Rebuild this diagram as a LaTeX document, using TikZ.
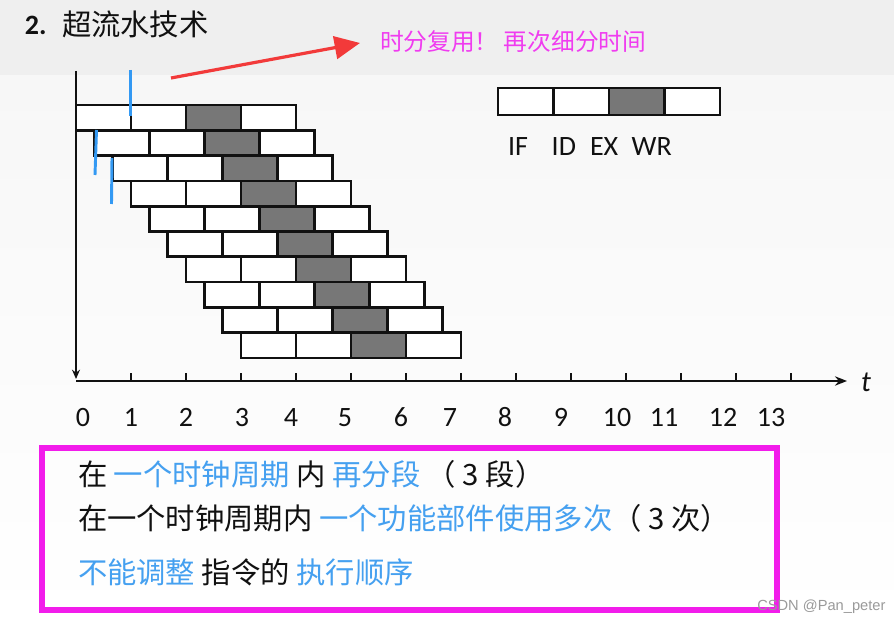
\documentclass[tikz,border=0pt]{standalone}
\usepackage{fontspec}
\setmainfont{Carlito}
\newfontfamily\cjk{Noto Sans CJK SC}
\newfontfamily\wmfont{Liberation Sans}
\usetikzlibrary{arrows.meta}
\definecolor{band}{HTML}{EFEFEF}
\definecolor{haze}{HTML}{F7F7F7}
\definecolor{ink}{HTML}{111111}
\definecolor{exfill}{HTML}{777777}
\definecolor{cycblue}{HTML}{3399F3}
\definecolor{hint}{HTML}{45A0F0}
\definecolor{alert}{HTML}{F23A3A}
\definecolor{note}{HTML}{F03CF0}
\definecolor{frame}{HTML}{F21CEB}
\definecolor{wm}{HTML}{9A9A9A}
\tikzset{
  stage/.style   = {draw=ink, line width=2pt, fill=white},
  axis/.style    = {draw=ink, line width=2.2pt},
  tickln/.style  = {draw=ink, line width=1.8pt},
  cyc/.style     = {draw=cycblue, line width=2.2pt},
  redarrow/.style= {-{Triangle[length=19pt,width=17pt]}, draw=alert, fill=alert, line width=2.4pt},
  lab/.style     = {font=\fontsize{21}{24}\selectfont, text=ink, inner sep=0pt, outer sep=0pt},
  cn/.style      = {font=\cjk\fontsize{22}{24}\selectfont, text=ink, anchor=west, inner sep=0pt, outer sep=0pt},
}

\begin{document}
\begin{tikzpicture}[x=0.75pt,y=-0.75pt]
\path[use as bounding box] (0,0) rectangle (894,624);

% ---- background ---------------------------------------------------------
\fill[band] (0,0) rectangle (894,76);
\shade[top color=haze, bottom color=white] (0,76) rectangle (894,624);

% ---- heading ------------------------------------------------------------
\node[lab, anchor=west, font=\fontsize{21}{24}\selectfont\bfseries] (num) at (25,25) {2.};
\node[cn, font=\cjk\fontsize{22}{24}\selectfont] (title) at (62,24) {超流水技术};
\node[cn, text=note, font=\cjk\fontsize{17.8}{20}\selectfont] (note) at (380,41) {时分复用！ 再次细分时间};
\coordinate (rtail) at (171,78);
\coordinate (rhead) at (360,43);
\draw[redarrow] (rtail) -- (rhead);

% ---- pipeline rows ------------------------------------------------------
\foreach \r in {0,...,9}{
  \foreach \s/\f in {0/white,1/white,2/exfill,3/white}{
    \draw[stage, fill=\f] (76+18.33*\r+55*\s, 105+25.3*\r) rectangle ++(55,25.3);
  }
}

% ---- sub-cycle marks ----------------------------------------------------
\draw[cyc] (130.7,70) -- (130.7,116);
\draw[cyc] (96.5,130) -- (95,175);
\draw[cyc] (112,158) -- (111.5,204);

% ---- legend -------------------------------------------------------------
\foreach \s/\f in {0/white,1/white,2/exfill,3/white}{
  \draw[stage, fill=\f] (498+55.5*\s,88) rectangle ++(55.5,27);
}
\foreach \x/\t in {508/IF,551.7/ID,590/EX,631.7/WR}{
  \node[lab, anchor=west] (leg\t) at (\x,147) {\t};
}

% ---- axes ---------------------------------------------------------------
\coordinate (ytop) at (76,71);
\coordinate (ybot) at (76,379);
\coordinate (o) at (76,381);
\coordinate (tend) at (847,381);
\draw[axis, -{Stealth[length=7pt,width=6pt]}] (ytop) -- (ybot);
\draw[axis, -{Stealth[length=9pt,width=7pt]}] (o) -- (tend);
\foreach \k in {1,...,13}{ \draw[tickln] (76+55*\k,381) -- ++(0,-8); }
\node[lab, font=\fontsize{22}{24}\selectfont\itshape] (tlab) at (866,382) {t};
\foreach \x/\n in {83/0,131/1,186/2,242/3,291/4,345/5,401/6,450/7,505/8,561/9,617/10,664/11,723/12,771/13}{
  \node[lab] (d\n) at (\x,417.5) {\n};
}

% ---- remarks ------------------------------------------------------------
\draw[frame, line width=5pt] (42,448) rectangle (777,610);
\node[cn] (l1) at (78,474) {在 \textcolor{hint}{一个时钟周期} 内 \textcolor{hint}{再分段} （ 3 段）};
\node[cn] (l2) at (78,518) {在一个时钟周期内 \textcolor{hint}{一个功能部件使用多次}（ 3 次）};
\node[cn] (l3) at (78,572) {\textcolor{hint}{不能调整} 指令的 \textcolor{hint}{执行顺序}};

\node[anchor=west, inner sep=0pt, text=wm, font=\wmfont\fontsize{11}{12}\selectfont] (wm) at (757,607) {CSDN @Pan\_peter};

\end{tikzpicture}
\end{document}
